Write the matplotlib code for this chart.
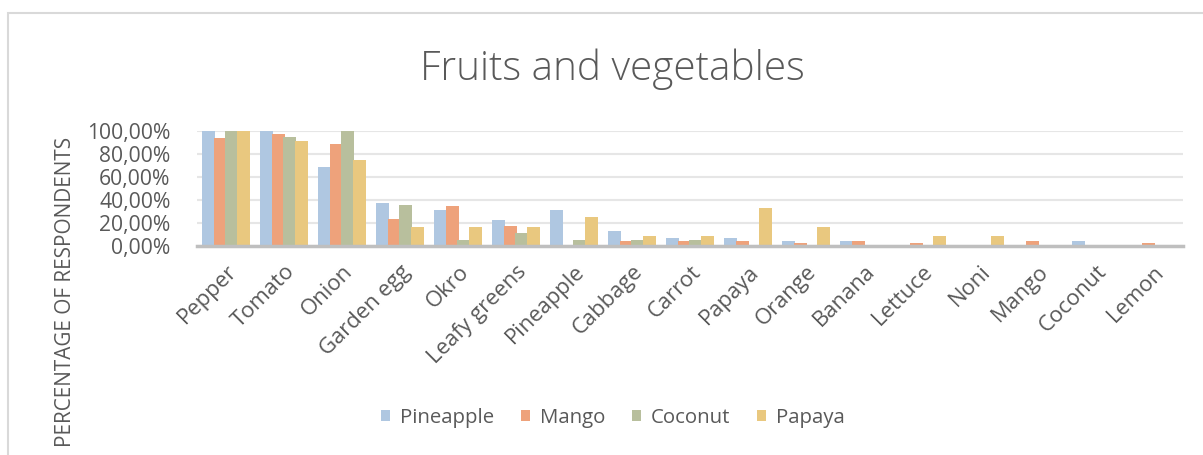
from matplotlib import pyplot as plt
from matplotlib.patches import Rectangle
from matplotlib.ticker import FuncFormatter
import numpy as np

# values (percent of respondents)
categories = ["Pepper", "Tomato", "Onion", "Garden egg", "Okro", "Leafy greens",
              "Pineapple", "Cabbage", "Carrot", "Papaya", "Orange", "Banana",
              "Lettuce", "Noni", "Mango", "Coconut", "Lemon"]
series_names = ["Pineapple", "Mango", "Coconut", "Papaya"]
pineapple = [100, 100, 69, 37.5, 31.3, 22.2, 31.3, 13.3, 7.0, 7.0, 4.6, 4.6, 0, 0, 0, 4.6, 0]
mango = [93.8, 97.8, 88.9, 23.5, 34.5, 17.7, 0, 4.4, 4.4, 4.6, 2.2, 4.6, 2.2, 0, 4.6, 0, 2.2]
coconut = [100, 94.4, 100, 35.3, 5.6, 11.1, 5.6, 5.2, 5.6, 0, 0, 0, 0, 0, 0, 0, 0]
papaya = [100, 91.7, 75.0, 16.7, 16.7, 16.7, 25.0, 8.3, 8.3, 33.3, 16.7, 0, 8.3, 8.3, 0, 0, 0]
yticks = [0, 20, 40, 60, 80, 100]

colors = ["#afc7e1", "#eea27b", "#b8bf9d", "#e9c87f"]
text_grey = "#595959"

plt.rcParams['font.family'] = ['Open Sans', 'DejaVu Sans']

fig = plt.figure(figsize=(12.03, 4.55), dpi=100)
renderer = fig.canvas.get_renderer()


# pick a font size so that a string comes out about target_px wide
def fit_size(s, target_px, **kw):
    t = fig.text(0, 0, s, fontsize=10, **kw)
    w = t.get_window_extent(renderer).width
    t.remove()
    return 10 * target_px / w


ax = fig.add_axes([197 / 1203, 1 - 246 / 455, (1183 - 197) / 1203, (246 - 131) / 455])

# outer chart border, like the excel chart area
fig.patches.append(Rectangle((8 / 1203, -0.1), 1.2, 1 - 13 / 455 + 0.1, transform=fig.transFigure,
                             fill=False, edgecolor="#d9d9d9", linewidth=1.5))

x = np.arange(len(categories))
step = 0.2
width = 0.23
for i, (vals, name) in enumerate(zip([pineapple, mango, coconut, papaya], series_names)):
    ax.bar(x + (i - 1.5) * step, vals, width, color=colors[i], label=name, zorder=3)

ax.set_xlim(-0.5, len(categories) - 0.5)
ax.set_ylim(0, 100)
ax.set_yticks(yticks)
ax.yaxis.set_major_formatter(FuncFormatter(lambda v, p: f"{v:.2f}%".replace(".", ",")))
ax.grid(axis="y", color="#e6e6e6", linewidth=1.5, zorder=0)
ax.set_xticks(x)
ax.set_xticklabels(categories, rotation=45, ha="right", rotation_mode="anchor")
ax.tick_params(axis="x", length=0, labelsize=fit_size("Leafy greens", 130),
               labelcolor=text_grey, pad=11)
ax.tick_params(axis="y", length=0, labelsize=fit_size("100,00%", 84),
               labelcolor=text_grey, pad=19)
for s in ["top", "right", "left"]:
    ax.spines[s].set_visible(False)
ax.spines["bottom"].set_color("#bfbfbf")
ax.spines["bottom"].set_linewidth(2.5)
ax.spines["bottom"].set_zorder(4)

fig.text(612 / 1203, 1 - 69 / 455, "Fruits and vegetables", ha="center", va="center",
         fontsize=fit_size("Fruits and vegetables", 385, fontweight="light"),
         color=text_grey, fontweight="light")
fig.text(66 / 1203, 1 - 137 / 455, "PERCENTAGE OF RESPONDENTS", rotation=90,
         ha="center", va="top", fontsize=fit_size("PERCENTAGE OF RESPONDENTS", 312),
         color=text_grey)

leg_size = fit_size("Pineapple", 94)
leg = fig.legend(loc="center", bbox_to_anchor=(613 / 1203, 1 - 418 / 455), ncol=4,
                 frameon=False, fontsize=leg_size, handlelength=0.45, handleheight=0.45,
                 handletextpad=0.5, columnspacing=1.3)
for t in leg.get_texts():
    t.set_color(text_grey)

fig.savefig("out.png", dpi=100)
